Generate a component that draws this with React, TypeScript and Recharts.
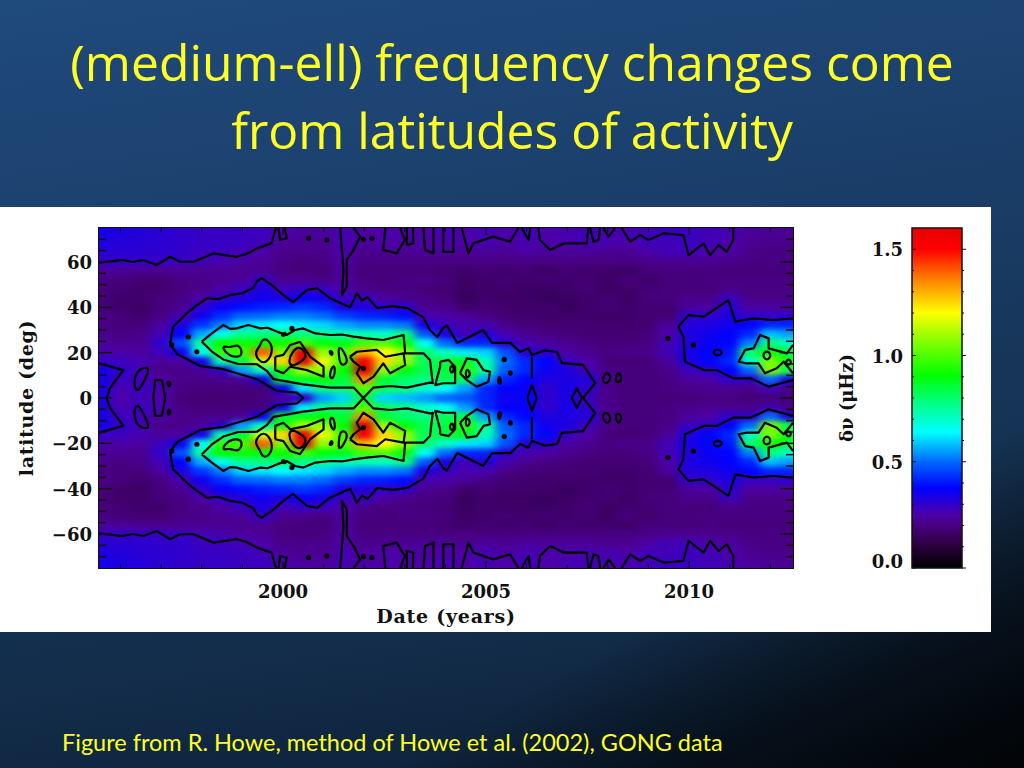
import { ScatterChart, Scatter, XAxis, YAxis, ReferenceArea, BarChart, Bar } from 'recharts'

// Grid columns, in years. The first and last sit just outside the plotted range.
const heatYears = [
  1995, 1995.5, 1996, 1996.5, 1997, 1997.5, 1998, 1998.5, 1999, 1999.5, 2000, 2000.5, 2001, 2001.5, 2002, 2002.5,
  2003, 2003.5, 2004, 2004.5, 2005, 2005.5, 2006, 2006.5, 2007, 2007.5, 2008, 2008.5, 2009, 2009.5, 2010, 2010.5,
  2011, 2011.5, 2012, 2012.5, 2013,
]
const heatLats = [80, 76, 72, 68, 64, 60, 56, 52, 48, 44, 40, 36, 32, 28, 24, 20, 16, 12, 8, 4, 0]

// Frequency shift, in 0.01 uHz, one row per latitude.
// The map is symmetric about the equator, so only the north is listed.
const lat80 = [36,35,33,32,31,30,29,29,29,28,26,24,24,26,25,25,25,25,26,25,27,25,27,25,26,27,26,26,27,28,28,27,26,24,23,23,23]
const lat76 = [36,35,33,32,31,30,29,29,29,28,26,24,24,26,25,25,25,25,26,25,27,25,27,25,26,27,26,26,27,28,28,27,26,24,23,23,23]
const lat72 = [35,34,33,32,31,30,29,29,28,28,25,23,23,26,24,25,25,24,26,25,26,25,27,25,26,27,26,26,27,28,28,27,26,23,22,22,22]
const lat68 = [34,33,32,31,31,30,29,29,28,27,23,22,22,26,23,25,24,24,25,25,26,24,26,25,25,26,26,25,27,27,28,27,25,22,21,21,21]
const lat64 = [31,31,31,31,30,30,28,28,27,25,21,21,21,25,21,22,22,23,23,22,23,22,24,23,23,23,22,22,25,27,27,25,24,21,20,20,20]
const lat60 = [29,29,29,29,29,28,27,26,24,23,20,19,20,24,20,20,20,20,20,20,20,20,20,20,20,20,20,20,21,22,22,22,21,20,20,20,20]
const lat56 = [24,24,23,22,22,22,22,22,22,22,20,19,19,23,19,19,19,19,18,17,18,17,18,16,18,17,17,16,19,19,19,19,19,19,19,19,19]
const lat52 = [20,20,19,18,18,20,21,22,23,29,22,22,20,24,20,19,20,20,19,16,17,18,17,18,17,18,16,19,17,19,19,20,20,20,20,20,20]
const lat48 = [19,19,18,17,17,20,21,24,28,33,27,29,28,25,21,20,20,19,18,16,17,17,16,16,17,18,16,17,18,19,19,19,21,20,20,20,20]
const lat44 = [19,19,17,17,19,20,25,30,32,35,33,36,34,28,29,24,22,20,19,15,17,16,16,15,16,17,18,16,19,19,21,21,28,21,21,21,21]
const lat40 = [19,19,17,16,19,22,30,36,39,41,42,44,42,33,32,30,30,22,21,17,18,17,17,17,15,17,18,17,18,18,23,24,31,24,24,24,24]
const lat36 = [20,20,19,17,20,26,35,43,49,50,52,52,50,45,42,41,39,26,25,23,20,18,17,17,17,17,17,17,18,18,30,30,33,29,29,30,30]
const lat32 = [20,20,19,19,24,33,44,52,60,62,64,62,60,56,53,53,51,33,28,26,26,21,19,18,18,18,17,17,18,23,32,33,35,38,42,42,42]
const lat28 = [21,21,20,21,27,38,56,66,76,78,80,78,76,72,72,70,78,48,33,27,32,26,22,20,19,18,18,18,19,25,33,35,37,42,58,55,55]
const lat24 = [23,23,22,22,30,47,75,90,92,90,92,98,90,88,98,100,90,65,50,42,42,30,26,24,22,20,19,19,20,27,32,36,38,52,78,70,70]
const lat20 = [27,26,25,24,28,35,65,96,98,140,105,165,108,100,130,120,108,80,70,62,60,47,31,30,24,22,20,21,21,27,34,38,40,80,92,85,85]
const lat16 = [30,29,28,26,23,24,34,72,85,115,125,165,118,98,155,125,108,82,85,88,72,50,42,38,29,25,19,18,19,23,33,38,42,70,105,90,90]
const lat12 = [35,35,30,27,21,21,23,30,55,72,92,110,108,90,170,108,90,82,85,95,75,48,42,35,33,27,21,19,19,21,28,30,37,50,105,82,82]
const lat8 = [34,34,28,27,24,21,21,21,23,35,85,88,90,85,135,85,80,78,82,82,55,42,38,33,33,32,21,19,19,20,23,25,30,30,50,33,33]
const lat4 = [34,34,26,28,26,20,19,19,19,19,35,62,78,80,100,82,78,70,65,55,42,37,36,30,34,30,21,19,19,20,21,22,22,21,27,21,21]
const lat0 = [33,33,25,27,25,19,18,18,18,19,23,30,55,60,85,60,58,55,50,48,42,35,38,30,33,28,21,19,19,19,19,20,20,19,19,19,19]
const heatRows = [lat80, lat76, lat72, lat68, lat64, lat60, lat56, lat52, lat48, lat44, lat40, lat36, lat32, lat28, lat24, lat20, lat16, lat12, lat8, lat4, lat0]

// Colour table, same as the colour bar: value in uHz and colour
const colorValues = [0, 0.11, 0.2, 0.25, 0.3, 0.375, 0.5, 0.64, 0.765, 0.906, 1.11, 1.2, 1.34, 1.5, 1.6]
const colorHex = ['#000000', '#2c0040', '#480082', '#4c00a8', '#3000cc', '#0000ff', '#0068ff', '#00ffff', '#00ff90', '#00ff00', '#aaff00', '#ffff00', '#ff9000', '#ff0000', '#e80000']

// Contours in [year, latitude], northern half. Open ones run to the equator or the plot edge.
const outerContour = [[2000.5,0],[2000.34,2.4],[1999.85,3.1],[1999.36,8.3],[1998.53,12.7],[1997.96,14.1],[1997.4,19.3],[1997.22,23.7],[1997.29,31.3],[1997.64,37.5],[1997.85,40.5],[1998.13,44],[1998.4,43.6],[1998.7,45.4],[1999,46.2],[1999.26,48.5],[1999.36,51.5],[1999.48,52.9],[1999.62,51],[1999.73,49.8],[2000,45.5],[2000.25,42.3],[2000.42,45],[2000.59,47.6],[2000.84,48.5],[2001.16,44],[2001.65,40],[2001.74,43],[2001.82,46.3],[2001.95,43],[2002.08,44.5],[2002.32,39.7],[2002.7,40.5],[2003.06,39.7],[2003.45,35.7],[2003.62,30],[2003.8,26.9],[2003.95,31],[2004.04,32],[2004.29,24.3],[2004.6,27],[2004.93,30],[2005.15,24.3],[2005.6,24.3],[2005.84,20.3],[2006.04,22],[2006.13,19],[2006.45,21],[2006.75,20.3],[2006.87,15.4],[2007.39,14.6],[2007.69,6.6],[2007.39,0]]
const highLatLeft = [[1995.47,59.7],[1996.07,60.9],[1996.3,60],[1996.56,60.9],[1996.89,58.7],[1997.22,62.3],[1997.47,60.1],[1997.8,60.1],[1998.29,63.8],[1998.86,62.3],[1999.1,63.5],[1999.36,66],[1999.72,68.2],[1999.81,74.1],[1999.85,75]]
const highLatSpike = [[2001.41,75],[2001.49,56.5],[2001.45,45.4],[2001.57,49.1],[2001.57,60.9],[2001.74,65.3],[2001.9,71.2],[2001.74,75]]
const highLat1 = [[1999.89,75],[1999.93,69.7],[2000.09,70.4],[2000.05,75]]
const highLat2 = [[2002.52,75],[2002.47,65.3],[2002.8,63.8],[2003,69.7],[2002.89,75]]
const highLat3 = [[2003.05,75],[2003.05,67.5],[2003.21,68.2],[2003.2,75]]
const highLat4 = [[2003.46,75],[2003.5,65.3],[2003.71,63.8],[2003.71,75]]
const highLat5 = [[2003.95,75],[2003.95,64.5],[2004.2,64.5],[2004.2,75]]
const highLat6 = [[2004.4,75],[2004.57,63.8],[2004.69,68.2],[2005.18,71.2],[2005.59,69],[2005.8,75]]
const highLat7 = [[2005.88,75],[2006.05,69.7],[2006.09,75]]
const highLat8 = [[2006.29,75],[2006.33,69.7],[2006.58,65.3],[2006.91,68.2],[2007.48,68.2],[2007.52,75]]
const highLat9 = [[2007.56,75],[2007.65,69],[2007.77,69.7],[2007.81,75]]
const highLat10 = [[2007.89,75],[2008.02,71.2],[2008.18,75]]
const highLat11 = [[2008.34,75],[2008.55,69],[2008.8,71.9],[2009,69.7],[2009.37,72.6],[2009.86,71.9],[2009.99,63],[2010.36,68.2],[2010.52,63],[2010.73,67.5],[2010.93,64.5],[2011.09,69.7],[2011.09,75]]
const leftPatch = [[1995.47,15.3],[1996.07,12.3],[1995.74,4.3],[1995.66,0]]
const leftArch = [[1996.81,0],[1996.85,7.9],[1997.02,7.9],[1997.1,0]]
const midDiamond = [[2006.02,0],[2006.13,5.7],[2006.25,0]]
const midArch = [[2007.11,0],[2007.24,4.3],[2007.36,0]]
const midStroke = [[2006.13,18.2],[2006.13,8.6]]
const rightOuter = [[2012.56,7.9],[2011.96,5],[2011.51,8.7],[2011.09,8.7],[2010.68,12.3],[2010.36,12.3],[2009.9,16],[2009.86,27],[2009.74,31.5],[2009.99,36.6],[2010.36,35.9],[2010.97,43.2],[2011.14,33.7],[2011.59,35.1],[2012.08,34.4],[2012.56,35.1]]
const rightInner = [[2012.56,10.9],[2012.33,16],[2012.16,13.1],[2011.87,10.9],[2011.71,15.3],[2011.42,15.3],[2011.22,16],[2011.38,21.2],[2011.59,21.9],[2011.75,27.8],[2011.96,26.3],[2011.96,21.9],[2012.41,19.7],[2012.56,23.4]]
const openContours = [outerContour, highLatLeft, highLatSpike, highLat1, highLat2, highLat3, highLat4, highLat5, highLat6, highLat7, highLat8, highLat9, highLat10, highLat11, leftPatch, leftArch, midDiamond, midArch, midStroke, rightOuter, rightInner]

const innerContour = [[1998,24.9],[1998.25,28.5],[1998.53,32.2],[1998.7,30.5],[1998.86,30.7],[1999.15,32.2],[1999.44,30.7],[1999.62,31],[1999.85,29.3],[2000.09,27.8],[2000.3,30],[2000.5,30.7],[2000.8,28.5],[2001.16,27.8],[2001.45,28],[2001.74,27.1],[2002.06,26.3],[2002.47,25.6],[2002.97,27.8],[2003.01,19.7],[2003.46,19.7],[2003.62,16.8],[2003.69,6.5],[2003.62,6.8],[2003.05,4.6],[2002.64,5.3],[2002.23,4.6],[2001.98,0],[2001.74,4.6],[2001.16,4.6],[2000.5,6],[1999.77,8.3],[1999.6,12],[1999.36,14.9],[1998.9,15],[1998.53,17],[1998.25,20.5]]
const loopA = [[1999.48,26.3],[1999.68,25.6],[1999.77,19.7],[1999.52,13.8],[1999.27,19.7],[1999.44,22.6]]
const loopB = [[1999.81,18.2],[2000.01,19],[2000.18,23.4],[2000.42,24.8],[2000.67,18.2],[2001,13.8],[2001,9.4],[2000.59,12.3],[2000.18,13.8],[2000.01,10.9],[1999.81,12.3]]
const loopC = [[2000.13,16],[2000.22,20.4],[2000.42,23.4],[2000.63,18.2],[2000.38,15.3],[2000.22,13.8]]
const loopD = [[2001.65,18.2],[2001.82,20.4],[2002.31,21.2],[2002.52,18.2],[2002.97,19.7],[2003.01,14.5],[2002.64,10.9],[2002.47,15.3],[2002.23,9.4],[2001.98,6.5],[2001.82,10.9],[2001.9,13.8],[2001.74,16]]
const loopE = [[2001.16,12.3],[2001.28,15.3],[2001.28,9.4],[2001.16,8]]
const loopF = [[1998.49,23.4],[1998.7,21.9],[1998.9,24.1],[1999.03,19.7],[1998.86,17.5],[1998.58,19.7]]
const loopG = [[2001.37,23.4],[2001.53,19.7],[2001.61,15.3],[2001.41,13.8],[2001.37,19.7]]
const loopH = [[2001.12,21.2],[2001.24,20.4],[2001.2,18.2]]
const loopI = [[1999.93,27.8],[2000.09,29.3],[2000.05,27]]
const loop2004a = [[2003.87,16],[2004.08,16.8],[2004.24,13.8],[2004.24,6.5],[2003.95,6.5],[2003.75,5.7],[2003.87,13.8]]
const loop2004b = [[2004.36,10.9],[2004.53,17.5],[2004.77,16.8],[2004.94,12.3],[2005.1,11.6],[2005.06,7.2],[2004.77,5],[2004.53,7.9]]
const loop2004c = [[2004.53,13.1],[2004.63,10.9],[2004.54,8.2],[2004.49,10.9]]
const loop2004d = [[2004.1,13.8],[2004.2,14.5],[2004.21,11.6],[2004.13,10.9]]
const loop2005 = [[2005.33,10.9],[2005.39,5.7],[2005.28,6.5]]
const loop2008a = [[2007.84,8],[2007.98,12.3],[2008.1,8.7],[2007.95,5.7]]
const loop2008b = [[2008.18,8],[2008.26,12.3],[2008.37,8],[2008.22,6.5]]
const loop1996 = [[1996.65,13.8],[1996.4,12.3],[1996.32,6.5],[1996.4,2],[1996.56,6.5],[1996.71,12.3]]
const loop1997 = [[1997.14,7.9],[1997.26,6.5],[1997.18,4.3]]
const loop2012a = [[2011.79,19],[2011.92,21.2],[2012.04,19],[2011.92,16]]
const loop2012b = [[2012.37,16],[2012.47,17.5],[2012.53,15.3],[2012.42,14.3]]
const loop2010 = [[2010.56,20.4],[2010.73,21.9],[2010.85,19.7],[2010.68,18.2]]
const bigLoops = [innerContour, loopB, loopD, loop2004a, loop2004b]
const smallLoops = [loopA, loopC, loopE, loopF, loopG, loopH, loopI, loop2004c, loop2004d, loop2005, loop2008a, loop2008b, loop1996, loop1997, loop2012a, loop2012b, loop2010]

// The very small closed contours, which read as dots
const contourDots = [[2000.63,70.4],[2001.08,69.7],[2001.98,70],[2002.19,70.4],[1997.67,27],[1997.26,23.4],[1997.88,20.4],[2010.11,23.4],[2009.48,26.3],[2001.98,13.1],[2000.22,30.7],[2005.45,17],[2005.6,11]]

const yearTicks = [1996, 1997, 1998, 1999, 2000, 2001, 2002, 2003, 2004, 2005, 2006, 2007, 2008, 2009, 2010, 2011, 2012]
const yearLabels = [2000, 2005, 2010]
const latTicks = [-70, -65, -60, -55, -50, -45, -40, -35, -30, -25, -20, -15, -10, -5, 0, 5, 10, 15, 20, 25, 30, 35, 40, 45, 50, 55, 60, 65, 70]
const latLabels = [-60, -40, -20, 0, 20, 40, 60]
const barTicks = [0, 0.1, 0.2, 0.3, 0.4, 0.5, 0.6, 0.7, 0.8, 0.9, 1, 1.1, 1.2, 1.3, 1.4, 1.5]
const barLabels = [0, 0.5, 1, 1.5]
const barData = [{ band: 'dnu', range: [0, 1.6] }]

const PLOT_LEFT = 99
const PLOT_RIGHT = 793
const PLOT_TOP = 228
const PLOT_BOTTOM = 568
const BAR_LEFT = 912
const BAR_RIGHT = 962
const axisFont = { fontFamily: '"DejaVu Serif"', fontWeight: 700, fontSize: 18, fill: '#111' }
const titleFont = { ...axisFont, fontSize: 19 }

function hexChannel(hex: string, i: number) {
  return parseInt(hex.slice(1 + i * 2, 3 + i * 2), 16)
}

function valueColor(v: number) {
  let i = 0
  while (i < colorValues.length - 2 && v > colorValues[i + 1]) i++
  const t = Math.min(1, Math.max(0, (v - colorValues[i]) / (colorValues[i + 1] - colorValues[i])))
  const mix = [0, 1, 2].map(c =>
    Math.round(hexChannel(colorHex[i], c) + t * (hexChannel(colorHex[i + 1], c) - hexChannel(colorHex[i], c))),
  )
  return `rgb(${mix.join(',')})`
}

const heatData = heatRows.flatMap((row, r) =>
  row.flatMap((v, c) => {
    const north = { year: heatYears[c], lat: heatLats[r], value: v / 100 }
    return heatLats[r] === 0 ? [north] : [north, { ...north, lat: -heatLats[r] }]
  }),
)

function toPoints(pts: number[][], sign: number) {
  return pts.map(([year, lat]) => ({ year, lat: sign * lat }))
}

const lineSeries = [
  ...openContours.flatMap(c => [toPoints(c, 1), toPoints(c, -1)]),
  ...bigLoops.flatMap(c => [toPoints([...c, c[0]], 1), toPoints([...c, c[0]], -1)]),
]
const roundSeries = smallLoops.flatMap(c => [toPoints(c, 1), toPoints(c, -1)])
const dotData = [...toPoints(contourDots, 1), ...toPoints(contourDots, -1)]
const contourStroke = { stroke: '#000', strokeWidth: 2.2, strokeLinejoin: 'round' }

function HeatCell({ cx, cy, payload }: any) {
  return <rect className="heat-cell" x={cx - 10.5} y={cy - 5} width={21} height={10} fill={valueColor(payload.value)} />
}

function NoMark() {
  return null
}

function ContourDot({ cx, cy }: any) {
  return <circle cx={cx} cy={cy} r={2.6} fill="#000" />
}

function YearTick({ x, payload }: any) {
  const major = yearLabels.includes(payload.value)
  const len = major ? 7 : 4
  return (
    <g>
      <line x1={x} x2={x} y1={PLOT_BOTTOM} y2={PLOT_BOTTOM - len} stroke="#000" />
      <line x1={x} x2={x} y1={PLOT_TOP} y2={PLOT_TOP + len} stroke="#000" />
      {major && (
        <text x={x} y={598} textAnchor="middle" {...axisFont}>
          {payload.value}
        </text>
      )}
    </g>
  )
}

function LatTick({ y, payload }: any) {
  const major = latLabels.includes(payload.value)
  const len = major ? 13 : 7
  return (
    <g>
      <line x1={PLOT_LEFT} x2={PLOT_LEFT + len} y1={y} y2={y} stroke="#111" strokeWidth={1.5} />
      <line x1={PLOT_RIGHT} x2={PLOT_RIGHT - len} y1={y} y2={y} stroke="#111" strokeWidth={1.5} />
      {major && (
        <text x={92} y={y + 7} textAnchor="end" {...axisFont}>
          {String(payload.value).replace('-', '\u2212')}
        </text>
      )}
    </g>
  )
}

function BarTick({ y, payload }: any) {
  const major = barLabels.includes(payload.value)
  const len = major ? 4 : 2
  return (
    <g>
      <line x1={BAR_LEFT} x2={BAR_LEFT + len} y1={y} y2={y} stroke="#111" />
      <line x1={BAR_RIGHT} x2={BAR_RIGHT + len} y1={y} y2={y} stroke="#111" />
      {major && (
        <text x={903} y={payload.value === 0 ? y - 0.5 : y + 7} textAnchor="end" {...axisFont}>
          {payload.value.toFixed(1)}
        </text>
      )}
    </g>
  )
}

export default function App() {
  return (
    <div
      style={{
        position: 'absolute',
        left: 0,
        top: 0,
        width: 1024,
        height: 768,
        overflow: 'hidden',
        background: 'linear-gradient(172deg, #1f4a7c 0%, #1c4270 22%, #14304f 70%, #0c1f36 100%)',
      }}
    >
      <style>{`.recharts-scatter:has(.heat-cell){filter:url(#heatBlur)}`}</style>
      <div
        style={{
          position: 'absolute',
          inset: 0,
          background: 'linear-gradient(152deg, rgba(0,0,0,0) 74%, rgba(0,0,0,0.55) 86%, rgba(0,0,0,0.9) 100%)',
        }}
      />
      <div
        style={{
          position: 'absolute',
          left: 0,
          top: 28,
          width: 1024,
          textAlign: 'center',
          color: '#ffff26',
          fontFamily: '"Open Sans"',
          fontSize: 49.8,
          lineHeight: '68px',
        }}
      >
        (medium-ell) frequency changes come
        <br />
        from latitudes of activity
      </div>
      <div style={{ position: 'absolute', left: 0, top: 207, width: 991, height: 425, background: '#fff' }} />
      <div style={{ position: 'absolute', left: 0, top: 0 }}>
        <ScatterChart width={1024} height={768} margin={{ top: PLOT_TOP, right: 1024 - PLOT_RIGHT, bottom: 170, left: 0 }}>
          <defs>
            <filter id="heatBlur" filterUnits="userSpaceOnUse" x={0} y={0} width={1024} height={768} colorInterpolationFilters="sRGB">
              <feGaussianBlur stdDeviation="5 2.5" />
            </filter>
          </defs>
          <XAxis
            type="number"
            dataKey="year"
            domain={[1995.47, 2012.56]}
            allowDataOverflow
            ticks={yearTicks}
            interval={0}
            height={30}
            axisLine={false}
            tickLine={false}
            tick={(p: any) => <YearTick {...p} />}
            label={{ value: 'Date (years)', content: () => (
              <text x={446} y={623} textAnchor="middle" {...titleFont} letterSpacing={0.75}>Date (years)</text>
            ) }}
          />
          <YAxis
            type="number"
            dataKey="lat"
            domain={[-75, 75]}
            allowDataOverflow
            ticks={latTicks}
            interval={0}
            width={PLOT_LEFT}
            axisLine={false}
            tickLine={false}
            tick={(p: any) => <LatTick {...p} />}
            label={{ value: 'latitude (deg)', content: () => (
              <text x={33} y={398} textAnchor="middle" transform="rotate(-90 33 398)" {...titleFont} letterSpacing={0.7}>latitude (deg)</text>
            ) }}
          />
          <Scatter data={heatData} shape={HeatCell} isAnimationActive={false} />
          {lineSeries.map((pts, i) => (
            <Scatter key={i} data={pts} shape={NoMark} line={contourStroke} isAnimationActive={false} />
          ))}
          {roundSeries.map((pts, i) => (
            <Scatter key={i} data={pts} shape={NoMark} line={contourStroke} lineJointType="basisClosed" isAnimationActive={false} />
          ))}
          <Scatter data={dotData} shape={ContourDot} isAnimationActive={false} />
          <ReferenceArea x1={1995.47} x2={2012.56} y1={-75} y2={75} fill="none" stroke="#111" strokeWidth={2} />
        </ScatterChart>
      </div>
      <div style={{ position: 'absolute', left: 0, top: 0 }}>
        <BarChart
          width={1024}
          height={768}
          data={barData}
          barCategoryGap={0}
          margin={{ top: PLOT_TOP, right: 1024 - BAR_RIGHT, bottom: 768 - PLOT_BOTTOM, left: 0 }}
        >
          <defs>
            <linearGradient id="barGradient" x1="0" y1="1" x2="0" y2="0">
              {colorValues.map((v, i) => (
                <stop key={v} offset={v / 1.6} stopColor={colorHex[i]} />
              ))}
            </linearGradient>
          </defs>
          <XAxis dataKey="band" hide />
          <YAxis
            type="number"
            domain={[0, 1.6]}
            ticks={barTicks}
            interval={0}
            width={BAR_LEFT}
            axisLine={false}
            tickLine={false}
            tick={(p: any) => <BarTick {...p} />}
            label={{ value: '\u03b4\u03bd (\u03bcHz)', content: () => (
              <text x={853} y={398} textAnchor="middle" transform="rotate(-90 853 398)" {...axisFont}>
                {'\u03b4\u03bd  (\u03bcHz)'}
              </text>
            ) }}
          />
          <Bar dataKey="range" fill="url(#barGradient)" stroke="#111" strokeWidth={1.5} isAnimationActive={false} />
        </BarChart>
      </div>
      <div
        style={{
          position: 'absolute',
          left: 62,
          top: 728,
          color: '#ffff26',
          fontFamily: 'Lato',
          fontSize: 23.5,
          whiteSpace: 'nowrap',
        }}
      >
        Figure from R. Howe, method of Howe et al. (2002), GONG data
      </div>
    </div>
  )
}
